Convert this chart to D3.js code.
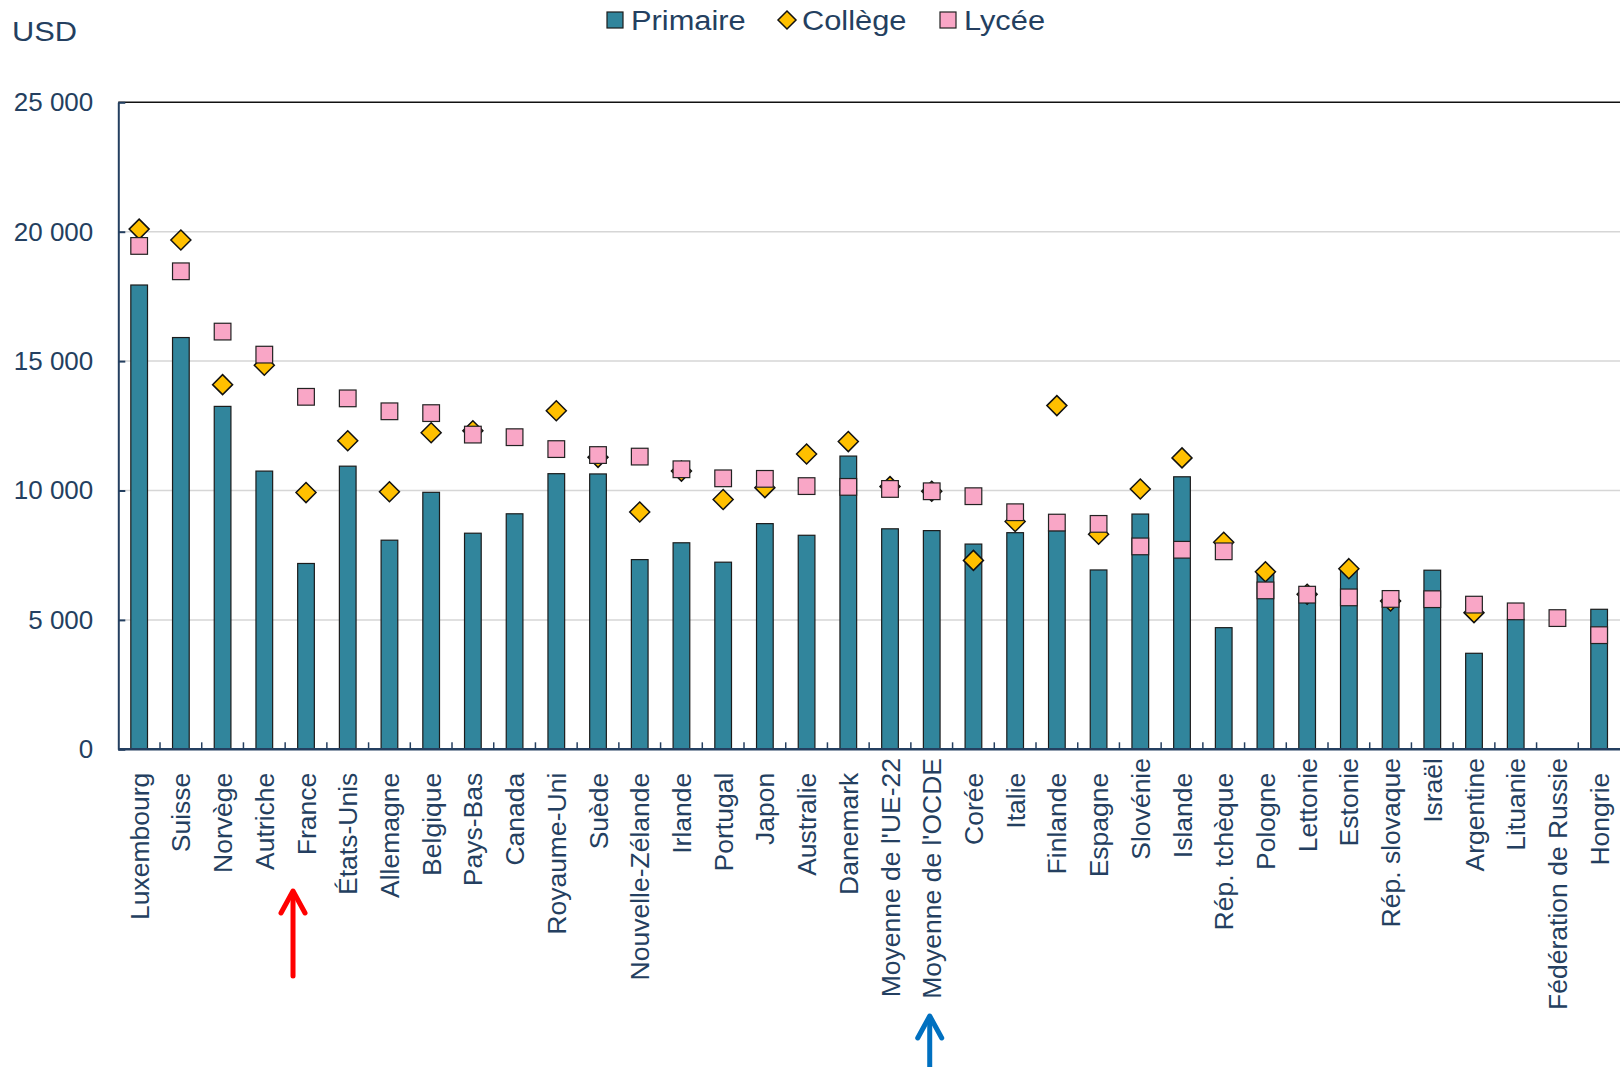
<!DOCTYPE html>
<html>
<head>
<meta charset="utf-8">
<script src="https://cdn.jsdelivr.net/npm/d3@7"></script>
<style>
  body { margin: 0; background: #fff; }
  text { font-family: "Liberation Sans", Arial, sans-serif; fill: #243f60; }
</style>
</head>
<body>
<svg id="chart" width="1620" height="1067"></svg>
<script>
// Pays (les espaces finaux reproduisent le décalage des libellés de l'original)
var categories = ["Luxembourg  ", "Suisse  ", "Norvège  ", "Autriche  ", "France  ", "États-Unis  ",
  "Allemagne  ", "Belgique  ", "Pays-Bas  ", "Canada  ", "Royaume-Uni  ", "Suède  ",
  "Nouvelle-Zélande  ", "Irlande  ", "Portugal  ", "Japon  ", "Australie  ", "Danemark  ",
  "Moyenne de l'UE-22", "Moyenne de l'OCDE", "Corée  ", "Italie  ", "Finlande  ", "Espagne  ",
  "Slovénie", "Islande  ", "Rép. tchèque  ", "Pologne  ", "Lettonie", "Estonie",
  "Rép. slovaque", "Israël", "Argentine", "Lituanie", "Fédération de Russie", "Hongrie  "];

// Dépenses par élève (USD)
var primaire = [17940, 15910, 13250, 10750, 7180, 10940, 8080, 9930, 8350, 9100, 10650, 10640,
  7330, 7980, 7230, 8720, 8270, 11330, 8520, 8450, 7930, 8370, 8450, 6930,
  9090, 10530, 4700, 6800, 5900, 6930, 5700, 6920, 3710, 5020, null, 5410];
var college = [20100, 19680, 14090, 14840, 9920, 11920, 9950, 12230, 12310, null, 13080, 11280,
  9170, 10750, 9650, 10110, 11410, 11890, 10150, 9970, 7300, 8800, 13280, 8310,
  10060, 11260, 8000, 6860, 5990, 6980, 5730, null, 5280, null, null, null];
var lycee = [19450, 18470, 16140, 15250, 13620, 13560, 13060, 12990, 12160, 12060, 11600, 11370,
  11310, 10820, 10470, 10450, 10170, 10140, 10060, 9970, 9780, 9160, 8760, 8710,
  7840, 7710, 7650, 6140, 5975, 5870, 5810, 5800, 5590, 5330, 5070, 4410];

var yTicks = [0, 5000, 10000, 15000, 20000, 25000];
var series = ["Primaire", "Collège", "Lycée"];

// Couleurs
var cBar = "#31859c", cDiamond = "#ffc000", cSquare = "#f9a6c6";
var cAxis = "#243f60", cGrid = "#d6d6d6";

var plotLeft = 118.3, plotRight = 1620, plotTop = 102.3, plotBottom = 749.3;

var svg = d3.select("#chart");

var x = d3.scaleBand()
  .domain(categories)
  .range([plotLeft, plotRight])
  .paddingInner(0.6)
  .paddingOuter(0.3);

var y = d3.scaleLinear()
  .domain([0, 25000])
  .range([plotBottom, plotTop]);

var fr = d3.formatLocale({ decimal: ",", thousands: " ", grouping: [3], currency: ["", " €"] });
var fmt = fr.format(",");

// Quadrillage
svg.append("g").selectAll("line")
  .data(yTicks.filter(function(d) { return d > 0 && d < 25000; }))
  .join("line")
  .attr("x1", plotLeft).attr("x2", plotRight)
  .attr("y1", function(d) { return y(d); }).attr("y2", function(d) { return y(d); })
  .attr("stroke", cGrid).attr("stroke-width", 1.5);

// Ligne du haut (25 000)
svg.append("line")
  .attr("x1", plotLeft).attr("x2", plotRight)
  .attr("y1", y(25000)).attr("y2", y(25000))
  .attr("stroke", "#111").attr("stroke-width", 1.5);

// Axe vertical
var yAxis = d3.axisLeft(y)
  .tickValues(yTicks)
  .tickFormat(fmt)
  .tickSizeInner(-7)
  .tickSizeOuter(0)
  .tickPadding(25);

var gy = svg.append("g")
  .attr("transform", "translate(" + plotLeft + ",0)")
  .call(yAxis);
gy.select(".domain").attr("stroke", cAxis).attr("stroke-width", 2);
gy.selectAll(".tick line").attr("stroke", cAxis).attr("stroke-width", 2);
gy.selectAll(".tick text")
  .attr("font-size", 26)
  .attr("fill", cAxis)
  .style("font-family", "'Liberation Sans', Arial, sans-serif");

// Barres (primaire)
var idx = d3.range(categories.length);
svg.append("g").selectAll("rect")
  .data(idx.filter(function(i) { return primaire[i] != null; }))
  .join("rect")
  .attr("x", function(i) { return x(categories[i]); })
  .attr("width", x.bandwidth())
  .attr("y", function(i) { return y(primaire[i]); })
  .attr("height", function(i) { return y(0) - y(primaire[i]); })
  .attr("fill", cBar)
  .attr("stroke", "#1c1c1c")
  .attr("stroke-width", 1.2);

// Axe horizontal
svg.append("line")
  .attr("x1", plotLeft).attr("x2", plotRight)
  .attr("y1", y(0)).attr("y2", y(0))
  .attr("stroke", cAxis).attr("stroke-width", 2.5);

// Petites graduations entre les pays
svg.append("g").selectAll("line")
  .data(d3.range(1, categories.length))
  .join("line")
  .attr("x1", function(k) { return plotLeft + k * x.step(); })
  .attr("x2", function(k) { return plotLeft + k * x.step(); })
  .attr("y1", y(0)).attr("y2", y(0) - 7)
  .attr("stroke", cAxis).attr("stroke-width", 1.5);

// Losanges (collège)
var half = 10;
var diamond = "M0," + (-half) + "L" + half + ",0L0," + half + "L" + (-half) + ",0Z";
svg.append("g").selectAll("path")
  .data(idx.filter(function(i) { return college[i] != null; }))
  .join("path")
  .attr("d", diamond)
  .attr("transform", function(i) {
    return "translate(" + (x(categories[i]) + x.bandwidth() / 2) + "," + y(college[i]) + ")";
  })
  .attr("fill", cDiamond)
  .attr("stroke", "#111")
  .attr("stroke-width", 1.5);

// Carrés (lycée)
var sq = x.bandwidth();
svg.append("g").selectAll("rect")
  .data(idx.filter(function(i) { return lycee[i] != null; }))
  .join("rect")
  .attr("x", function(i) { return x(categories[i]) + x.bandwidth() / 2 - sq / 2; })
  .attr("y", function(i) { return y(lycee[i]) - sq / 2; })
  .attr("width", sq).attr("height", sq)
  .attr("fill", cSquare)
  .attr("stroke", "#222")
  .attr("stroke-width", 1.2);

// Libellés des pays
svg.append("g").selectAll("text")
  .data(idx)
  .join("text")
  .attr("transform", function(i) {
    return "translate(" + (x(categories[i]) + x.bandwidth() / 2) + "," + 758 + ") rotate(-90)";
  })
  .attr("text-anchor", "end")
  .attr("dy", "0.36em")
  .attr("font-size", 26.5)
  .style("white-space", "pre")
  .text(function(i) { return categories[i]; });

// Unité
svg.append("text")
  .attr("transform", "translate(12,41) scale(1.1,1)")
  .attr("font-size", 28)
  .text("USD");

// Légende (texte un peu élargi comme dans l'original)
var leg = svg.append("g");
leg.append("rect").attr("x", 607).attr("y", 12).attr("width", 16).attr("height", 16)
  .attr("fill", cBar).attr("stroke", "#1c1c1c").attr("stroke-width", 1.2);
leg.append("text").attr("transform", "translate(631,30) scale(1.1,1)").attr("font-size", 28).text(series[0]);
leg.append("path").attr("d", "M0,-9L9,0L0,9L-9,0Z").attr("transform", "translate(787,20)")
  .attr("fill", cDiamond).attr("stroke", "#111").attr("stroke-width", 1.5);
leg.append("text").attr("transform", "translate(802,30) scale(1.1,1)").attr("font-size", 28).text(series[1]);
leg.append("rect").attr("x", 940).attr("y", 12).attr("width", 16).attr("height", 16)
  .attr("fill", cSquare).attr("stroke", "#222").attr("stroke-width", 1.2);
leg.append("text").attr("transform", "translate(964,30) scale(1.1,1)").attr("font-size", 28).text(series[2]);

// Flèches (France et moyenne de l'OCDE)
function arrow(cx, tipY, endY, color) {
  var g = svg.append("g")
    .attr("stroke", color).attr("fill", "none")
    .attr("stroke-width", 5).attr("stroke-linecap", "round").attr("stroke-linejoin", "round");
  g.append("line").attr("x1", cx).attr("x2", cx).attr("y1", tipY + 2).attr("y2", endY);
  g.append("path").attr("d", "M" + (cx - 12) + "," + (tipY + 22) + "L" + cx + "," + tipY + "L" + (cx + 12) + "," + (tipY + 22));
}
arrow(x("France  ") + x.bandwidth() / 2 - 13, 891, 976, "#ff0000");
arrow(x("Moyenne de l'OCDE") + x.bandwidth() / 2 - 2, 1016, 1075, "#0070c0");
</script>
</body>
</html>
